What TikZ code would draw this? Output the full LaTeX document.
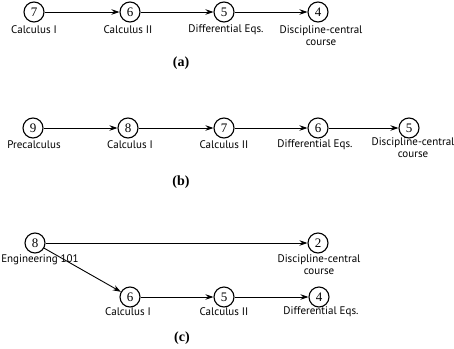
\documentclass[tikz,border=0pt]{standalone}
\usepackage{fontspec}
\setmainfont{Liberation Serif}
\setsansfont{PT Sans}
\usetikzlibrary{graphs,arrows.meta}

\tikzset{
	crs/.style={draw,circle,black,line width=1.1pt,inner sep=0pt,minimum size=20pt,font=\fontsize{13}{13}\selectfont},
	lbl/.style={align=center,inner sep=0pt,font=\sffamily\fontsize{11}{12}\selectfont},
	panel/.style={font=\fontsize{14}{14}\selectfont\bfseries}
}

\begin{document}
\begin{tikzpicture}[x=1pt,y=-1pt,>={Stealth[length=8pt,width=5.5pt]}]
	\useasboundingbox (0,0) rectangle (454,348);
	
	% (a)
	\node [name=a7,crs] at (34,12) {7};
	\node [name=a6,crs] at (130,12) {6};
	\node [name=a5,crs] at (224,12) {5};
	\node [name=a4,crs] at (318,12) {4};
	
	\node [name=a7t,lbl] at (34,30) {Calculus I};
	\node [name=a6t,lbl] at (128,30) {Calculus II};
	\node [name=a5t,lbl] at (226,30) {Differential Eqs.};
	\node [name=a4t,lbl] at (321,36) {Discipline-central\\course};
	
	\node [name=capa,panel] at (181,63) {(a)};
	
	\graph {(a7)->[line width=0.9pt] (a6)->[line width=0.9pt] (a5)->[line width=0.9pt] (a4)};
	
	% (b)
	\node [name=b9,crs] at (33,128) {9};
	\node [name=b8,crs] at (128,128) {8};
	\node [name=b7,crs] at (224,128) {7};
	\node [name=b6,crs] at (318,128) {6};
	\node [name=b5,crs] at (409,128) {5};
	
	\node [name=b9t,lbl] at (34,145) {Precalculus};
	\node [name=b8t,lbl] at (130,145) {Calculus I};
	\node [name=b7t,lbl] at (224,145) {Calculus II};
	\node [name=b6t,lbl] at (315,145) {Differential Eqs.};
	\node [name=b5t,lbl] at (413,148) {Discipline-central\\course};
	
	\node [name=capb,panel] at (181,182) {(b)};
	
	\graph {(b9)->[line width=0.9pt] (b8)->[line width=0.9pt] (b7)->[line width=0.9pt] (b6)->[line width=0.9pt] (b5)};
	
	% (c)
	\node [name=c8,crs] at (35,243) {8};
	\node [name=c2,crs] at (318,243) {2};
	\node [name=c6,crs] at (130,297) {6};
	\node [name=c5,crs] at (224,297) {5};
	\node [name=c4,crs] at (319,297) {4};
	
	\node [name=c8t,lbl] at (40,260) {Engineering 101};
	\node [name=c2t,lbl] at (319,265) {Discipline-central\\course};
	\node [name=c6t,lbl] at (128,312) {Calculus I};
	\node [name=c5t,lbl] at (224,312) {Calculus II};
	\node [name=c4t,lbl] at (321,312) {Differential Eqs.};
	
	\node [name=capc,panel] at (182,338) {(c)};
	
	\graph {(c8)->[line width=0.9pt] (c2)};
	\graph {(c8)->[line width=0.9pt] (c6)->[line width=0.9pt] (c5)->[line width=0.9pt] (c4)};
	
\end{tikzpicture}
\end{document}
